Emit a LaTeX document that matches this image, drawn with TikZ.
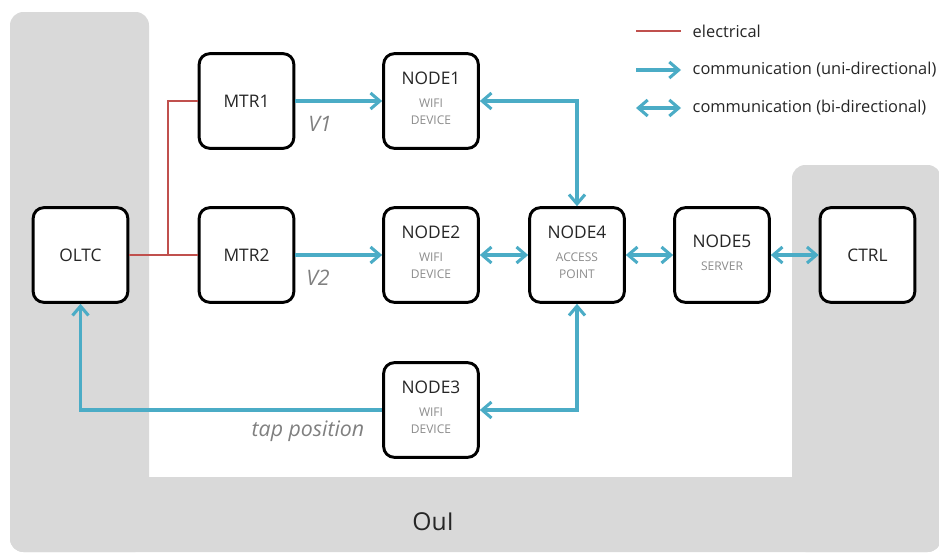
\documentclass[tikz,border=0pt]{standalone}
\usepackage{fontspec}
\setmainfont{Open Sans}
\usetikzlibrary{arrows.meta}
\definecolor{oui-grey}{HTML}{D9D9D9}
\definecolor{comm-blue}{HTML}{4BACC6}
\definecolor{elec-red}{HTML}{C0504D}
\definecolor{label-grey}{HTML}{808080}
\definecolor{sub-grey}{HTML}{8C8C8C}
\definecolor{box-text}{HTML}{262626}
\newcommand{\subtext}[1]{{\color{sub-grey}\fontsize{9}{12.8}\selectfont\begin{tabular}[t]{@{}c@{}}#1\end{tabular}}}

\begin{document}
\begin{tikzpicture}[x=0.75pt, y=-0.75pt,
      every node/.style={text=box-text},
      unit/.style={draw=black, line width=2.2pt, fill=white, rounded corners=8pt,
          minimum width=71pt, minimum height=71pt, align=center,
          font=\fontsize{13}{14.5}\selectfont},
      elec/.style={draw=elec-red, line width=2.2pt},
      comm/.style={draw=comm-blue, line width=2.3pt,
          -{Straight Barb[length=7pt, width=12pt]}},
      comm2/.style={comm,
          {Straight Barb[length=7pt, width=12pt]}-{Straight Barb[length=7pt, width=12pt]}},
      wire label/.style={text=label-grey, font=\fontsize{16}{16}\selectfont\itshape},
      legend/.style={anchor=west, font=\fontsize{12.3}{13}\selectfont}]
    \clip (0,0) rectangle (939,553);
    \fill[oui-grey, rounded corners=10pt] (10,12) rectangle (149,552);
    \fill[oui-grey, rounded corners=10pt] (10,477) rectangle (941,552);
    \fill[oui-grey, rounded corners=10pt] (792,165) rectangle (941,552);
    \node[font=\fontsize{18.5}{19}\selectfont] (OuI) at (433,522) {OuI};

    \node[unit] (OLTC) at (80.5,255) {OLTC};
    \node[unit] (MTR1) at (246.5,101) {MTR1};
    \node[unit] (MTR2) at (246.5,255) {MTR2};
    \node[unit] (NODE1) at (431,101) {NODE1\\[3pt]\subtext{WIFI\\DEVICE}};
    \node[unit] (NODE2) at (431,255) {NODE2\\[3pt]\subtext{WIFI\\DEVICE}};
    \node[unit] (NODE3) at (431,410) {NODE3\\[3pt]\subtext{WIFI\\DEVICE}};
    \node[unit] (NODE4) at (577,255) {NODE4\\[3pt]\subtext{ACCESS\\POINT}};
    \node[unit] (NODE5) at (722,255) {NODE5\\[3pt]\subtext{SERVER}};
    \node[unit] (CTRL) at (867.5,255) {CTRL};

    \coordinate (J) at (168,255);
    \draw[elec] (OLTC.east) -- (MTR2.west);
    \draw[elec] (J) |- (MTR1.west);
    \draw[comm] (MTR1.east) -- (NODE1.west);
    \draw[comm] (MTR2.east) -- (NODE2.west);
    \draw[comm2] (NODE1.east) -| (NODE4.north);
    \draw[comm2] (NODE2.east) -- (NODE4.west);
    \draw[comm2] (NODE4.east) -- (NODE5.west);
    \draw[comm2] (NODE5.east) -- (CTRL.west);
    \draw[comm2] (NODE3.east) -| (NODE4.south);
    \draw[comm] (NODE3.west) -| (OLTC.south);

    \node[wire label] (V1) at (320,124) {V1};
    \node[wire label] (V2) at (318,278) {V2};
    \node[wire label] (tap) at (308,431) {tap position};

    \coordinate (elecA) at (636,31);
    \coordinate (elecB) at (681,31);
    \coordinate (uniA) at (636,70);
    \coordinate (uniB) at (681,70);
    \coordinate (biA) at (636,108);
    \coordinate (biB) at (681,108);
    \draw[elec] (elecA) -- (elecB);
    \draw[comm] (uniA) -- (uniB);
    \draw[comm2] (biA) -- (biB);
    \node[legend] (elecL) at (688,31) {electrical};
    \node[legend] (uniL) at (688,70) {communication (uni-directional)};
    \node[legend] (biL) at (688,108) {communication (bi-directional)};
  \end{tikzpicture}
\end{document}
